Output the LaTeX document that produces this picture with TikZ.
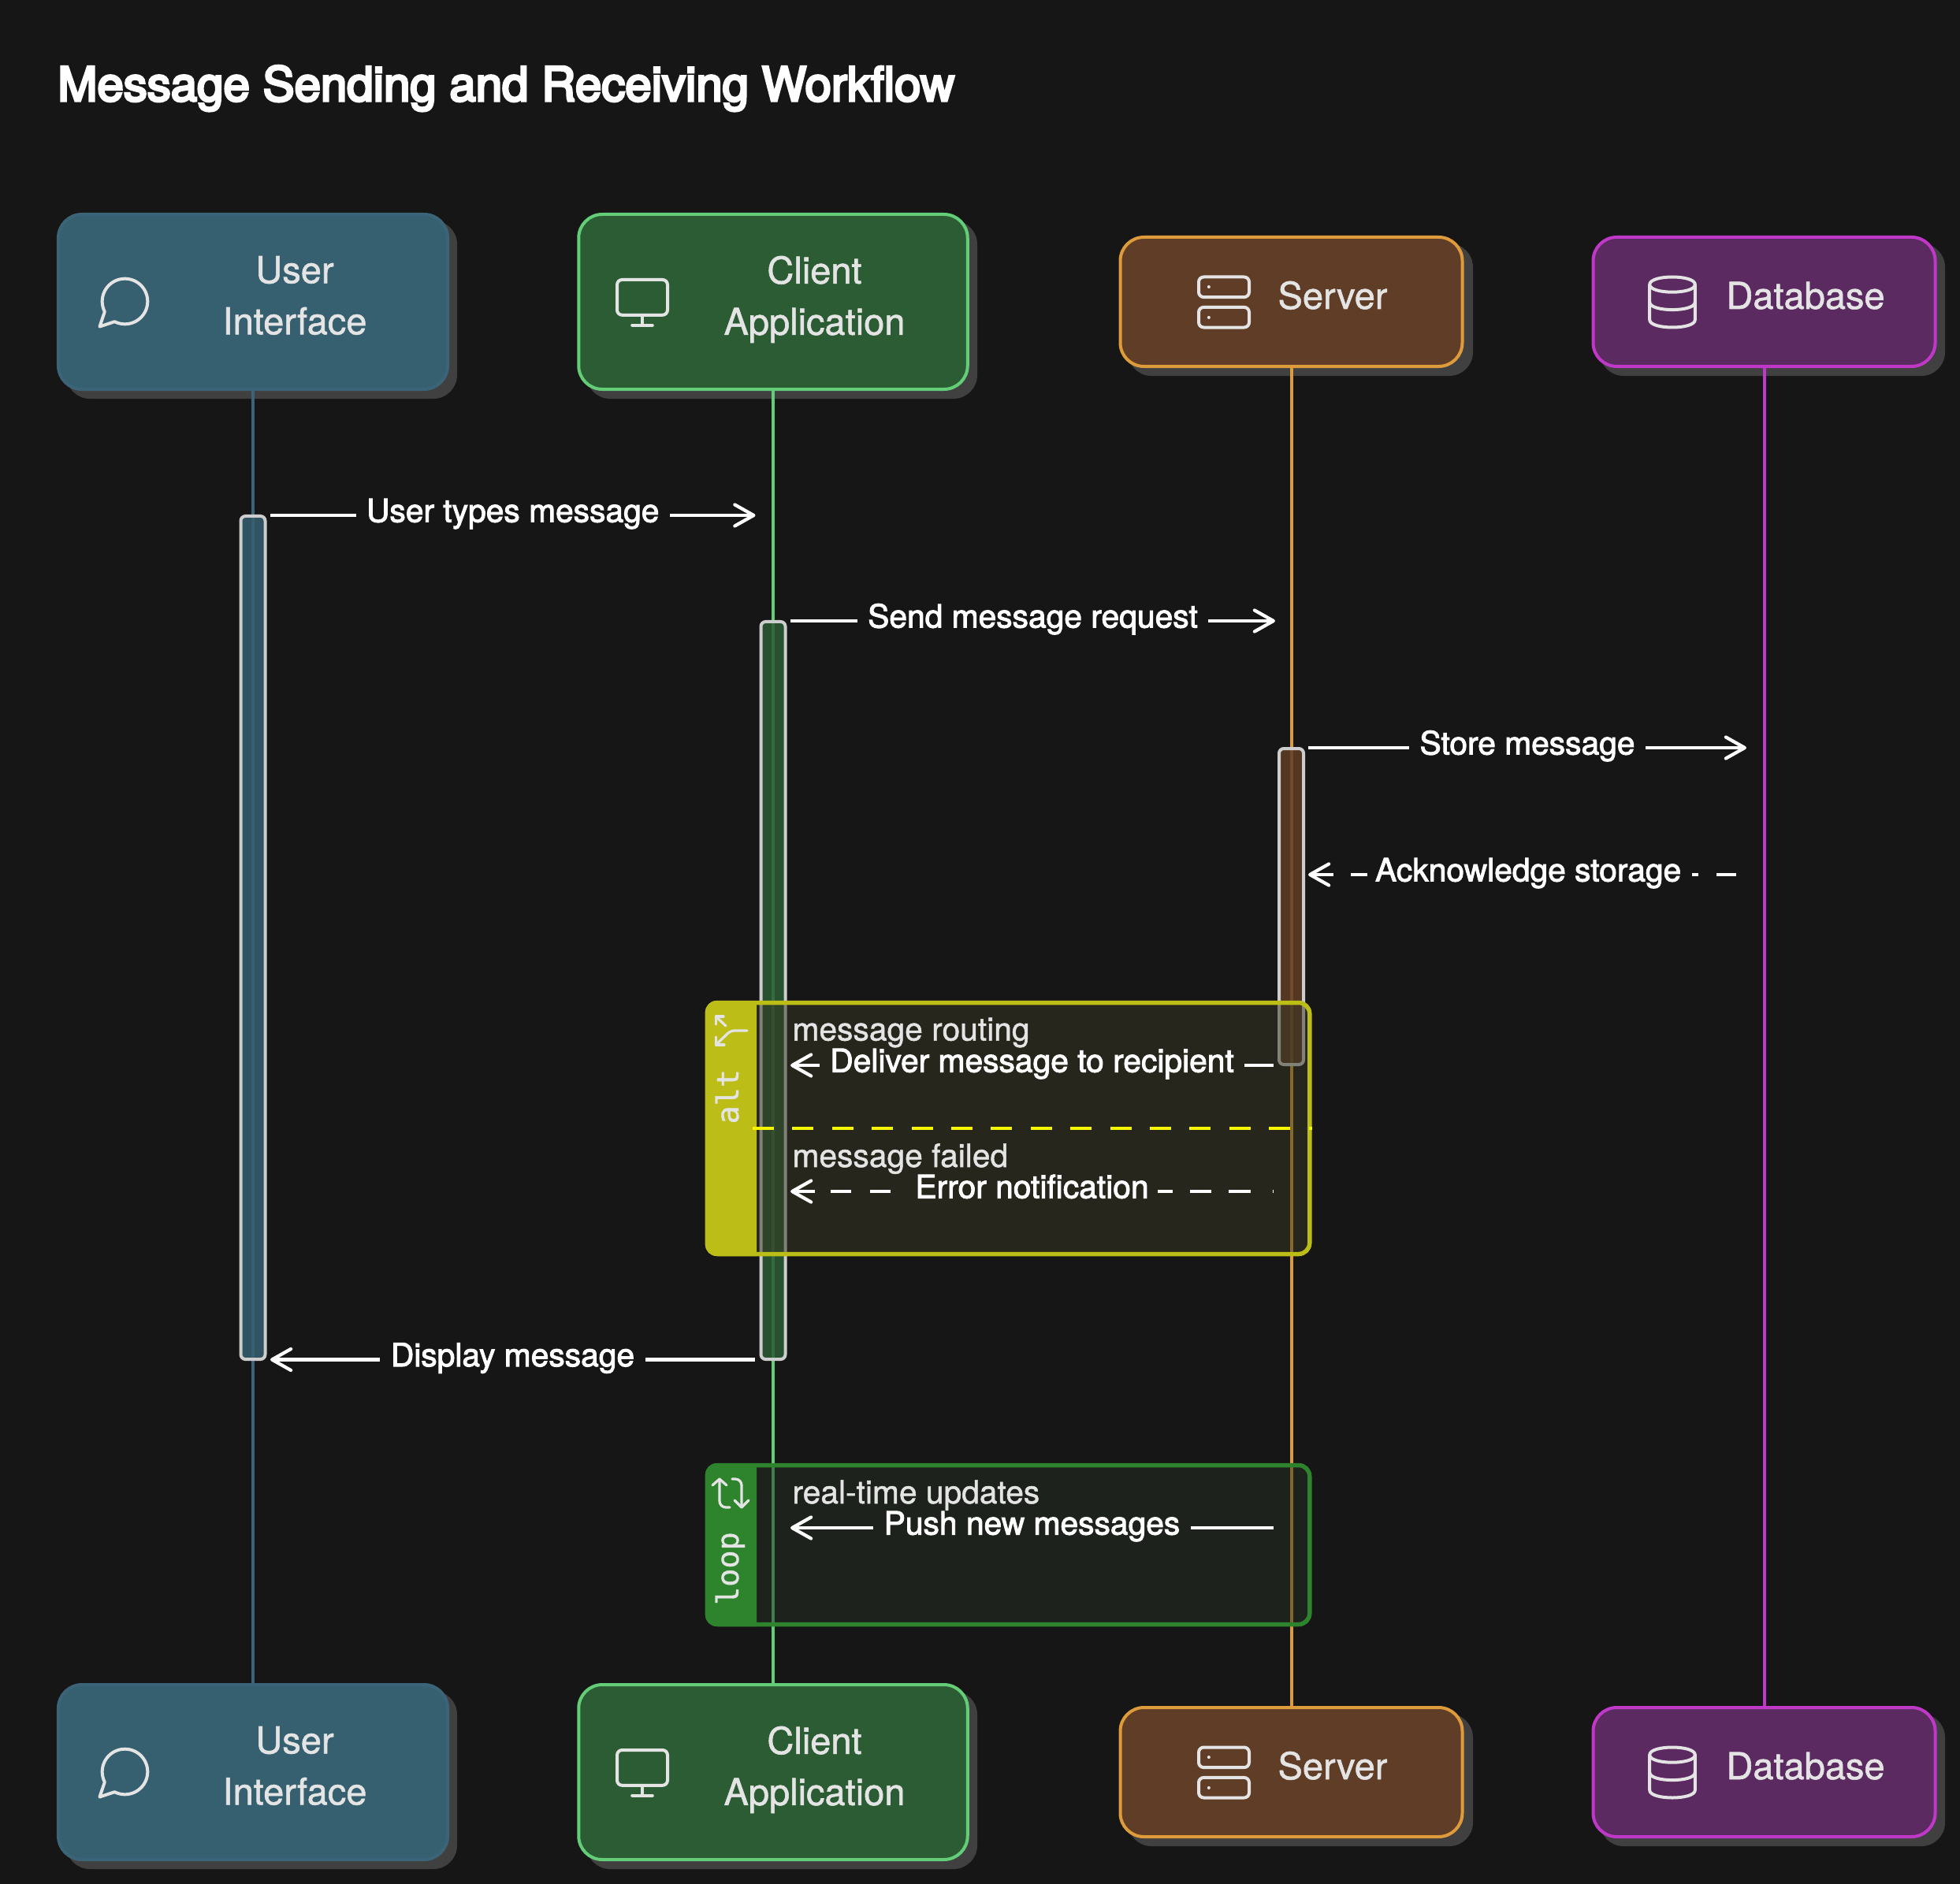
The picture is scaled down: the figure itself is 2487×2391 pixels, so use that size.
\documentclass[tikz,border=0pt]{standalone}
\usepackage{fontspec}
\usetikzlibrary{arrows.meta}
\setmainfont{TeX Gyre Heros}
\newfontfamily\titlefont[FakeBold=5]{TeX Gyre Heros}
\newfontfamily\msgfont[FakeBold=2.4]{TeX Gyre Heros}
\newfontfamily\regionfont[FakeBold=1.2]{TeX Gyre Heros}
\newfontfamily\stripfont[FakeBold=1]{DejaVu Sans Mono}
\definecolor{bgc}{RGB}{22,22,22}
\definecolor{shadowc}{RGB}{64,64,64}
\definecolor{textc}{RGB}{228,228,228}
\definecolor{ufill}{RGB}{54,95,112}
\definecolor{uline}{RGB}{60,100,120}
\definecolor{cfill}{RGB}{44,92,52}
\definecolor{cline}{RGB}{100,205,120}
\definecolor{sfill}{RGB}{95,61,38}
\definecolor{sline}{RGB}{222,155,60}
\definecolor{dfill}{RGB}{90,42,96}
\definecolor{dline}{RGB}{192,56,200}
\definecolor{altc}{RGB}{189,189,24}
\definecolor{altbody}{RGB}{38,38,28}
\definecolor{altmix}{RGB}{54,54,34}
\definecolor{loopc}{RGB}{46,132,44}
\definecolor{loopbody}{RGB}{30,34,28}
\definecolor{loopmix}{RGB}{38,46,34}
\definecolor{yelc}{RGB}{245,245,0}
\definecolor{actline}{RGB}{205,205,205}
\tikzset{
  actorbox/.style={rectangle,rounded corners=12pt,line width=1.6pt,inner sep=0pt},
  shadowbox/.style={rectangle,rounded corners=12pt,fill=shadowc,inner sep=0pt},
  actortext/.style={text=textc,font=\regionfont\fontsize{18.8}{26}\selectfont,align=center,inner sep=0pt},
  lifeline/.style={line width=1.6pt},
  actbar/.style={rectangle,rounded corners=2.4pt,draw=actline,line width=1.6pt,fill opacity=.85,draw opacity=1,inner sep=0pt,minimum width=12.4pt},
  frame/.style={rectangle,rounded corners=5.6pt,line width=2.2pt,inner sep=0pt,fill opacity=.5,draw opacity=1,minimum width=305.8pt},
  msgline/.style={draw=white,line width=1.7pt},
  barbr/.style={-{Straight Barb[length=9.6pt,width=10.8pt,line width=1.7pt,round]}},
  barbl/.style={{Straight Barb[length=9.6pt,width=10.8pt,line width=1.7pt,round]}-},
  msgtext/.style={text=white,font=\msgfont\fontsize{16.3}{16.3}\selectfont,inner ysep=0pt,inner xsep=5.4pt,anchor=base},
  regiontext/.style={text=textc,font=\regionfont\fontsize{16.3}{16.3}\selectfont,inner sep=0pt,anchor=base west},
  striptext/.style={text=textc,font=\stripfont\fontsize{15.4}{15.4}\selectfont,inner sep=0pt,rotate=90,anchor=base west},
  iconline/.style={draw=textc,line width=1.6pt,line cap=round,line join=round},
  tagicon/.style={draw=textc,line width=1.3pt,line cap=round,line join=round},
  icobox/.style 2 args={shift={(#1,#2)},x=1.28pt,y=-1.28pt,shift={(-12,-12)}},
}
\newcommand\actorset[2]{%
\begin{scope}[shift={(0,#2)}]
  \node[shadowbox,minimum width=198.4pt,minimum height=90.4pt] (ushadow#1) at (332,393) {};
  \node[shadowbox,minimum width=198.4pt,minimum height=90.4pt] (cshadow#1) at (992,393) {};
  \node[shadowbox,minimum width=175.2pt,minimum height=67.2pt] (sshadow#1) at (1650,393) {};
  \node[shadowbox,minimum width=175.2pt,minimum height=67.2pt] (dshadow#1) at (2249,393) {};
  \node[actorbox,draw=uline,fill=ufill,minimum width=197.6pt,minimum height=88.8pt] (u#1) at (321,383) {};
  \node[actorbox,draw=cline,fill=cfill,minimum width=197.4pt,minimum height=88.8pt] (c#1) at (981,383) {};
  \node[actorbox,draw=sline,fill=sfill,minimum width=173.6pt,minimum height=65.6pt] (s#1) at (1638.5,383) {};
  \node[actorbox,draw=dline,fill=dfill,minimum width=173.6pt,minimum height=65.6pt] (d#1) at (2238.5,383) {};
  \node[actortext] (utext#1) at (374,375) {User\\Interface};
  \node[actortext] (ctext#1) at (1033.5,380) {Client\\Application};
  \node[actortext,anchor=base] (stext#1) at (1691,392) {Server};
  \node[actortext,anchor=base] (dtext#1) at (2291,392) {Database};
  \begin{scope}[icobox={158.5}{382.5}]
    \draw[iconline] plot[domain=117:-207,samples=70,smooth] ({12+9*cos(\x)},{12+9*sin(\x)}) -- (2,22) -- cycle;
  \end{scope}
  \begin{scope}[icobox={815}{383.8}]
    \draw[iconline,rounded corners=2.56pt] (2,3) rectangle (22,17);
    \draw[iconline] (8,21) -- (16,21);
    \draw[iconline] (12,17) -- (12,21);
  \end{scope}
  \begin{scope}[icobox={1553}{383.5}]
    \draw[iconline,rounded corners=2.56pt] (2,2) rectangle (22,10);
    \draw[iconline,rounded corners=2.56pt] (2,14) rectangle (22,22);
    \draw[iconline] (6,6) -- (6.01,6);
    \draw[iconline] (6,18) -- (6.01,18);
  \end{scope}
  \begin{scope}[icobox={2122}{383.5}]
    \draw[iconline] (3,5) .. controls (3,1) and (21,1) .. (21,5) .. controls (21,9) and (3,9) .. (3,5);
    \draw[iconline] (3,5) -- (3,19) .. controls (3,23) and (21,23) .. (21,19) -- (21,5);
    \draw[iconline] (3,12) .. controls (3,16) and (21,16) .. (21,12);
  \end{scope}
\end{scope}}
\begin{document}
\begin{tikzpicture}[x=0.4pt,y=-0.4pt]
\useasboundingbox (0,0) rectangle (2487,2391);
\fill[bgc] (0,0) rectangle (2487,2391);

\node[anchor=base west,inner sep=0pt,text=white,font=\titlefont\fontsize{24}{24}\selectfont] (title) at (73,128) {Message Sending and Receiving Workflow};

\actorset{top}{0}
\actorset{bot}{1866}

% lifelines
\draw[lifeline,uline] (utop.south) -- (ubot.north);
\draw[lifeline,cline] (ctop.south) -- (cbot.north);
\draw[lifeline,sline] (stop.south) -- (sbot.north);
\draw[lifeline,dline] (dtop.south) -- (dbot.north);

% activations
\node[actbar,fill=ufill,minimum height=428pt] (uact) at (321,1190) {};
\node[actbar,fill=cfill,minimum height=374.4pt] (cact) at (981,1257) {};
\node[actbar,fill=sfill,minimum height=160.4pt] (sact) at (1638.5,1150.5) {};

% alt frame
\node[frame,draw=altc,fill=altmix,minimum height=127.6pt] (altframe) at (1279.5,1432) {};
\fill[altc] (960,1270) [rounded corners=5.6pt] -- (895,1270) -- (895,1594) [sharp corners] -- (960,1594) -- cycle;
\coordinate (altdiva) at (955,1432);
\coordinate (altdivb) at (1665,1432);
\draw[yelc,line width=1.7pt,dash pattern=on 10.8pt off 9.36pt] (altdiva) -- (altdivb);
\node[striptext] (altlabel) at (937,1427) {alt};
\draw[tagicon] (918,1290) -- (908.3,1290) -- (908.3,1300);
\draw[tagicon] (908.3,1290) -- (921,1302);
\draw[tagicon] (908.3,1316) -- (908.3,1326) -- (919,1326);
\draw[tagicon,rounded corners=2pt] (908.3,1326) -- (927,1308) -- (948,1308);

% loop frame
\node[frame,draw=loopc,fill=loopmix,minimum height=80.8pt] (loopframe) at (1279.5,1960.5) {};
\fill[loopc] (960,1857) [rounded corners=5.6pt] -- (895,1857) -- (895,2064) [sharp corners] -- (960,2064) -- cycle;
\node[striptext] (looplabel) at (937,2037.5) {loop};
\draw[tagicon] (904,1885) -- (913,1877) -- (922,1885);
\draw[tagicon,rounded corners=3.2pt] (913,1877) -- (913,1913) -- (926,1913);
\draw[tagicon,rounded corners=3.2pt] (929,1877) -- (941,1877) -- (941,1913);
\draw[tagicon] (932,1904) -- (941,1913) -- (950,1904);

% messages
\coordinate (m1a) at (343,654);   \coordinate (m1b) at (958.5,654);
\coordinate (m2a) at (1003,788);  \coordinate (m2b) at (1618,788);
\coordinate (m3a) at (1660,949);  \coordinate (m3b) at (2216,949);
\coordinate (m4a) at (1660,1110); \coordinate (m4b) at (2203,1110);
\coordinate (m5a) at (1003,1352); \coordinate (m5b) at (1616,1352);
\coordinate (m6a) at (1003,1512); \coordinate (m6b) at (1616,1512);
\coordinate (m7a) at (343,1725.5);\coordinate (m7b) at (958,1725.5);
\coordinate (m8a) at (1003,1939); \coordinate (m8b) at (1616,1939);

\draw[msgline,barbr] (m1a) -- node[msgtext,fill=bgc,pos=.5,yshift=-3.4pt] (m1t) {User types message} (m1b);
\draw[msgline,barbr] (m2a) -- node[msgtext,fill=bgc,pos=.5,yshift=-3.4pt] (m2t) {Send message request} (m2b);
\draw[msgline,barbr] (m3a) -- node[msgtext,fill=bgc,pos=.5,yshift=-3.4pt] (m3t) {Store message} (m3b);
\draw[msgline,barbl,dash pattern=on 11.2pt off 8.8pt on 8.4pt off 164.6pt on 3.2pt off 9.2pt on 11pt off 20pt] (m4a) -- node[msgtext,pos=.514,yshift=-3.4pt] (m4t) {Acknowledge storage} (m4b);
\draw[msgline,barbl] (m5a) -- node[msgtext,fill=altbody,pos=.5,yshift=-3.4pt] (m5t) {Deliver message to recipient} (m5b);
\draw[msgline,barbl,dash pattern=on 10.6pt off 8.2pt on 10.4pt off 9.6pt on 10.4pt off 135.6pt on 7.6pt off 8.8pt on 10.8pt off 8.8pt on 11.2pt off 11pt on 1.6pt off 20pt] (m6a) -- node[msgtext,pos=.5,yshift=-3.4pt] (m6t) {Error notification} (m6b);
\draw[msgline,barbl] (m7a) -- node[msgtext,fill=bgc,pos=.5,yshift=-3.4pt] (m7t) {Display message} (m7b);
\draw[msgline,barbl] (m8a) -- node[msgtext,fill=loopbody,pos=.5,yshift=-3.4pt] (m8t) {Push new messages} (m8b);

\node[regiontext] (altr1) at (1005,1320.5) {message routing};
\node[regiontext] (altr2) at (1005,1481) {message failed};
\node[regiontext] (loopr) at (1005,1908) {real-time updates};
\end{tikzpicture}
\end{document}
